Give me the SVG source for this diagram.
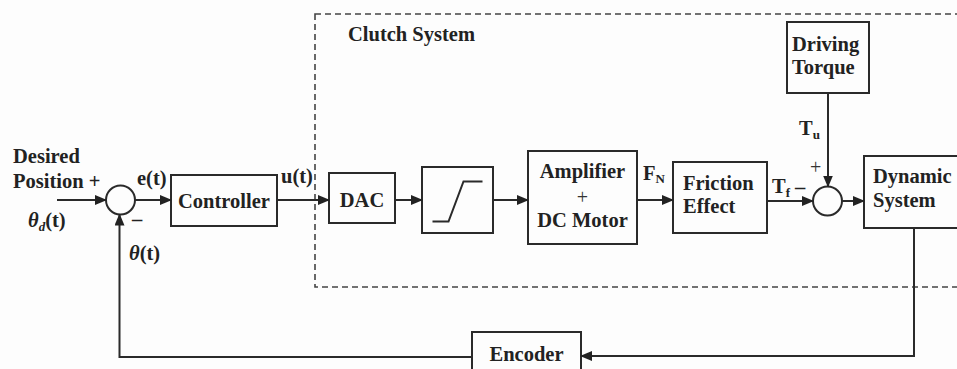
<svg xmlns="http://www.w3.org/2000/svg" width="957" height="369" viewBox="0 0 957 369">
<defs>
<style>
.box{fill:none;stroke:#2a2a2a;stroke-width:2}
.ln{fill:none;stroke:#2a2a2a;stroke-width:2}
.t{font-family:"Liberation Serif","Times New Roman",serif;font-weight:bold;font-size:20.5px;fill:#222}
.sub{font-size:13px}
.plus{font-family:"Liberation Serif",serif;font-weight:normal;font-size:20px;fill:#333}
</style>
<marker id="ah" markerWidth="12" markerHeight="10" refX="11" refY="5" orient="auto" markerUnits="userSpaceOnUse">
<path d="M0,0 L12,5 L0,10 Z" fill="#222"/>
</marker>
</defs>
<rect width="957" height="369" fill="#fdfdfd"/>

<g id="clutch-system">
<rect x="315" y="14" width="660" height="273" fill="none" stroke="#444" stroke-width="1.6" stroke-dasharray="6,4"/>
<text class="t" x="348" y="41">Clutch System</text>
</g>

<g id="sum1">
<circle cx="120.5" cy="200" r="14.5" fill="none" stroke="#2a2a2a" stroke-width="2"/>
</g>

<g id="controller">
<rect class="box" x="171" y="175" width="106" height="51"/>
<text class="t" x="224" y="208" text-anchor="middle">Controller</text>
</g>

<g id="dac">
<rect class="box" x="329" y="173" width="66" height="50"/>
<text class="t" x="362" y="207" text-anchor="middle">DAC</text>
</g>

<g id="saturation">
<rect class="box" x="422" y="167" width="71" height="66"/>
<path class="ln" d="M432.5,221.5 H448.5 L463.5,181.5 H482.5"/>
</g>

<g id="amplifier">
<rect class="box" x="528" y="151" width="109" height="93"/>
<text class="t" x="582.5" y="178" text-anchor="middle">Amplifier</text>
<text class="plus" x="582.5" y="204" text-anchor="middle">+</text>
<text class="t" x="582.5" y="227" text-anchor="middle">DC Motor</text>
</g>

<g id="friction">
<rect class="box" x="673" y="162" width="94" height="71"/>
<text class="t" x="683" y="190">Friction</text>
<text class="t" x="683" y="213">Effect</text>
</g>

<g id="driving-torque">
<rect class="box" x="787" y="22" width="82" height="71"/>
<text class="t" x="792" y="51">Driving</text>
<text class="t" x="792" y="74">Torque</text>
</g>

<g id="sum2">
<circle cx="827.5" cy="201" r="14.5" fill="none" stroke="#2a2a2a" stroke-width="2"/>
</g>

<g id="dynamic-system">
<rect class="box" x="864" y="156" width="100" height="72"/>
<text class="t" x="873" y="183">Dynamic</text>
<text class="t" x="873" y="207">System</text>
</g>

<g id="encoder">
<rect class="box" x="472" y="332" width="109" height="50"/>
<text class="t" x="526.5" y="361" text-anchor="middle">Encoder</text>
</g>

<g id="connectors">
<line class="ln" x1="57" y1="200" x2="106" y2="200" marker-end="url(#ah)"/>
<line class="ln" x1="135" y1="200" x2="171" y2="200" marker-end="url(#ah)"/>
<line class="ln" x1="277" y1="200" x2="329" y2="200" marker-end="url(#ah)"/>
<line class="ln" x1="395" y1="200" x2="422" y2="200" marker-end="url(#ah)"/>
<line class="ln" x1="493" y1="200" x2="528" y2="200" marker-end="url(#ah)"/>
<line class="ln" x1="637" y1="200" x2="673" y2="200" marker-end="url(#ah)"/>
<line class="ln" x1="767" y1="201" x2="813" y2="201" marker-end="url(#ah)"/>
<line class="ln" x1="842" y1="201" x2="864" y2="201" marker-end="url(#ah)"/>
<line class="ln" x1="828" y1="93" x2="828" y2="186.5" marker-end="url(#ah)"/>
<polyline class="ln" points="914,228 914,356 581,356" marker-end="url(#ah)"/>
<polyline class="ln" points="472,357 119.5,357 119.5,214.5" marker-end="url(#ah)"/>
</g>

<g id="labels">
<text class="t" x="13" y="163">Desired</text>
<text class="t" x="13" y="188">Position +</text>
<text class="t" x="28" y="227"><tspan font-style="italic">θ</tspan><tspan class="sub" font-style="italic" dy="4">d</tspan><tspan dy="-4">(t)</tspan></text>
<text class="t" x="137" y="185">e(t)</text>
<text class="t" x="132" y="226">–</text>
<text class="t" x="129" y="260"><tspan font-style="italic">θ</tspan>(t)</text>
<text class="t" x="281" y="183">u(t)</text>
<text class="t" x="643" y="180">F<tspan class="sub" dy="3">N</tspan></text>
<text class="t" x="772" y="193">T<tspan class="sub" dy="4">f</tspan></text>
<text class="t" x="795" y="194">–</text>
<text class="plus" x="810" y="174" font-size="18">+</text>
<text class="t" x="799" y="135">T<tspan class="sub" dy="4">u</tspan></text>
</g>
</svg>
